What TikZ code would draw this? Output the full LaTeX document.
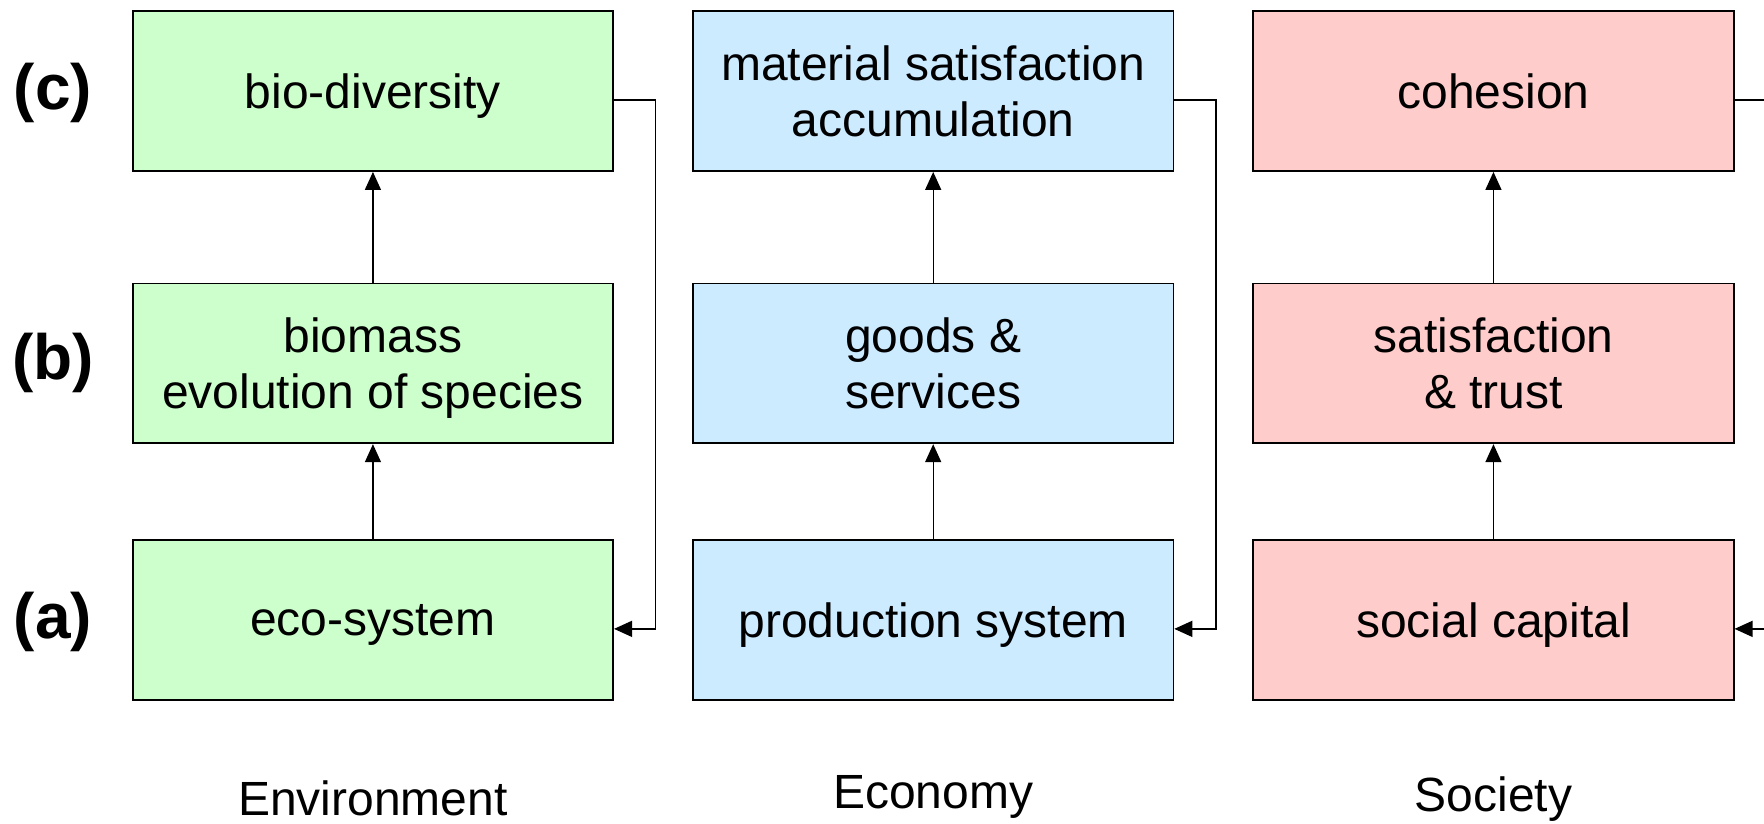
\documentclass[tikz,border=0pt]{standalone}
\usepackage{fontspec}
\setmainfont{Liberation Sans}
\usetikzlibrary{arrows.meta}
\definecolor{envgreen}{HTML}{CCFFCC}
\definecolor{ecoblue}{HTML}{CCEBFF}
\definecolor{socpink}{HTML}{FFCCCC}
\begin{document}
\begin{tikzpicture}[x=0.5625pt,y=-0.5625pt,
  box/.style={draw=black,line width=0.9pt,minimum width=240.2pt,minimum height=79.9pt,
    inner sep=0pt,align=center,text depth=-1pt,font=\fontsize{24}{28}\selectfont},
  envbox/.style={box,fill=envgreen},
  ecobox/.style={box,fill=ecoblue},
  socbox/.style={box,fill=socpink},
  rowlabel/.style={font=\fontsize{32}{36}\selectfont\bfseries},
  collabel/.style={font=\fontsize{24}{28}\selectfont},
  link/.style={line width=0.7pt},
  conn/.style={line width=0.7pt,-{Triangle[length=9pt,width=8pt]}}
]
\useasboundingbox (0,0) rectangle (1568,732);
% row labels
\node[rowlabel] (lc) at (47,83) {(c)};
\node[rowlabel] (lb) at (47,323) {(b)};
\node[rowlabel] (la) at (47,553) {(a)};
% Environment
\node[envbox] (bio) at (331.5,81) {bio-diversity};
\node[envbox] (bmass) at (331.5,323) {biomass\\evolution of species};
\node[envbox] (eco) at (331.5,551) {eco-system};
% Economy
\node[ecobox] (mat) at (829.5,81) {material satisfaction\\accumulation};
\node[ecobox] (goods) at (829.5,323) {goods \&\\services};
\node[ecobox] (prod) at (829.5,551) {production system};
% Society
\node[socbox] (coh) at (1327.5,81) {cohesion};
\node[socbox] (sat) at (1327.5,323) {satisfaction\\\& trust};
\node[socbox] (soc) at (1327.5,551) {social capital};
% column labels
\node[collabel] (lenv) at (331.5,710) {Environment};
\node[collabel] (leco) at (829.5,708) {Economy};
\node[collabel] (lsoc) at (1327.5,710) {Society};
% vertical arrows
\draw[conn] (eco.north) -- (bmass.south);
\draw[conn] (bmass.north) -- (bio.south);
\draw[conn] (prod.north) -- (goods.south);
\draw[conn] (goods.north) -- (mat.south);
\draw[conn] (soc.north) -- (sat.south);
\draw[conn] (sat.north) -- (coh.south);
% feedback loops
\draw[conn] ([yshift=-4.5pt]bio.east) -- ++(37,0) |- ([yshift=-4.5pt]eco.east);
\draw[conn] ([yshift=-4.5pt]mat.east) -- ++(37,0) |- ([yshift=-4.5pt]prod.east);
\coordinate (rtop) at (1568,89);
\coordinate (rbot) at (1568,559);
\draw[link] ([yshift=-4.5pt]coh.east) -- (rtop);
\draw[conn] (rbot) -- ([yshift=-4.5pt]soc.east);
\end{tikzpicture}
\end{document}
